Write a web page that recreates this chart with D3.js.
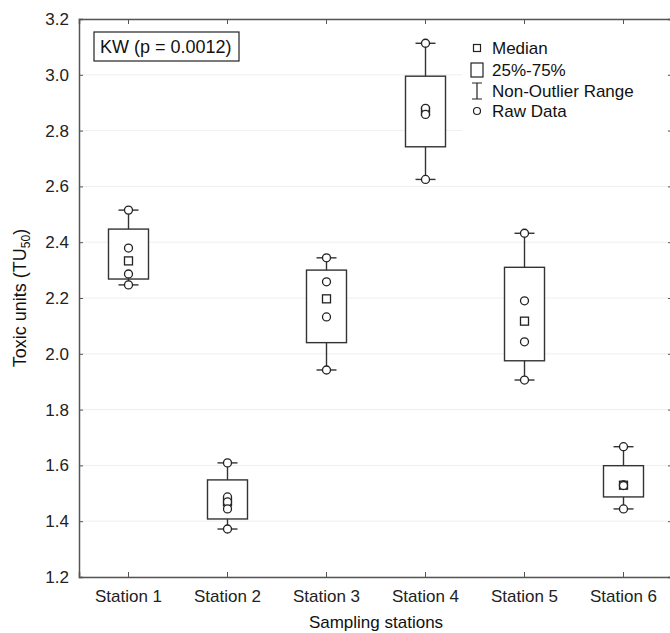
<!DOCTYPE html>
<html>
  <head>
    <meta charset="utf-8">
    <title>Toxic units by sampling station</title>
    <script src="https://cdn.jsdelivr.net/npm/d3@7"></script>
    <style>
      body { margin: 0; background: #fff; }
      svg { display: block; font-family: "Liberation Sans", Arial, sans-serif; }
      .axis path, .axis line { stroke: #555; }
      .axis path { stroke-width: 1.5; }
      .axis text { font-size: 17px; fill: #222; }
      .grid line { stroke: #efefef; }
    </style>
  </head>

  <body>
    <svg id="chart" width="670" height="633"></svg>

    <script>
      // data
      stations = ["Station 1", "Station 2", "Station 3", "Station 4", "Station 5", "Station 6"];
      medians = [2.333, 1.469, 2.197, 2.869, 2.117, 1.529];
      q1 = [2.268, 1.408, 2.040, 2.742, 1.975, 1.487];
      q3 = [2.447, 1.548, 2.300, 2.995, 2.310, 1.599];
      whiskerLow = [2.247, 1.372, 1.942, 2.625, 1.906, 1.444];
      whiskerHigh = [2.515, 1.609, 2.344, 3.113, 2.432, 1.667];
      rawData = [
        [2.515, 2.379, 2.286, 2.247],
        [1.609, 1.487, 1.469, 1.444, 1.372],
        [2.344, 2.258, 2.132, 1.942],
        [3.113, 2.880, 2.858, 2.625],
        [2.432, 2.190, 2.043, 1.906],
        [1.667, 1.530, 1.528, 1.444]
      ];
      yTicks = [1.2, 1.4, 1.6, 1.8, 2.0, 2.2, 2.4, 2.6, 2.8, 3.0, 3.2];
      legendItems = ["Median", "25%-75%", "Non-Outlier Range", "Raw Data"];

      margin = {top: 19, right: -3, bottom: 56, left: 79};
      width = 670;
      height = 633;

      svg = d3.select("#chart");

      x = d3.scaleBand()
        .domain(stations)
        .range([margin.left, width - margin.right]);
      y = d3.scaleLinear()
        .domain([1.2, 3.2])
        .range([height - margin.bottom, margin.top]);

      // gridlines
      svg.append("g")
        .attr("class", "grid")
        .selectAll("line")
        .data(yTicks)
        .join("line")
          .attr("x1", margin.left)
          .attr("x2", width - margin.right)
          .attr("y1", function(d) { return y(d); })
          .attr("y2", function(d) { return y(d); });

      // legend background hides the gridlines behind it
      svg.append("rect")
        .attr("x", 462)
        .attr("y", 32)
        .attr("width", 205)
        .attr("height", 102)
        .attr("fill", "#fff");

      // axes, ticks pointing inwards
      svg.append("g")
        .attr("class", "axis")
        .attr("transform", "translate(" + margin.left + ",0)")
        .call(d3.axisLeft(y).tickValues(yTicks).tickFormat(d3.format(".1f")).tickSize(-4).tickPadding(10));
      svg.append("g")
        .attr("class", "axis")
        .attr("transform", "translate(" + (width - margin.right) + ",0)")
        .call(d3.axisRight(y).tickValues(yTicks).tickFormat("").tickSize(-5));
      svg.append("g")
        .attr("class", "axis")
        .attr("transform", "translate(0," + (height - margin.bottom) + ")")
        .call(d3.axisBottom(x).tickSize(-5).tickPadding(13));
      svg.append("g")
        .attr("class", "axis")
        .attr("transform", "translate(0," + margin.top + ")")
        .call(d3.axisTop(x).tickFormat("").tickSize(-5));

      // boxes
      boxWidth = 40;
      capWidth = 20;
      boxes = svg.append("g")
        .selectAll("g")
        .data(stations)
        .join("g")
          .attr("transform", function(d) {
            return "translate(" + (x(d) + x.bandwidth() / 2) + ",0)";
          });
      boxes.append("line")
        .attr("y1", function(d, i) { return y(whiskerHigh[i]); })
        .attr("y2", function(d, i) { return y(whiskerLow[i]); })
        .attr("stroke", "#333")
        .attr("stroke-width", 1.4);
      boxes.append("line")
        .attr("x1", -capWidth / 2)
        .attr("x2", capWidth / 2)
        .attr("y1", function(d, i) { return y(whiskerHigh[i]); })
        .attr("y2", function(d, i) { return y(whiskerHigh[i]); })
        .attr("stroke", "#333")
        .attr("stroke-width", 1.4);
      boxes.append("line")
        .attr("x1", -capWidth / 2)
        .attr("x2", capWidth / 2)
        .attr("y1", function(d, i) { return y(whiskerLow[i]); })
        .attr("y2", function(d, i) { return y(whiskerLow[i]); })
        .attr("stroke", "#333")
        .attr("stroke-width", 1.4);
      boxes.append("rect")
        .attr("x", -boxWidth / 2)
        .attr("width", boxWidth)
        .attr("y", function(d, i) { return y(q3[i]); })
        .attr("height", function(d, i) { return y(q1[i]) - y(q3[i]); })
        .attr("fill", "#fff")
        .attr("stroke", "#333")
        .attr("stroke-width", 1.4);
      boxes.append("rect")
        .attr("x", -4)
        .attr("width", 8)
        .attr("y", function(d, i) { return y(medians[i]) - 4; })
        .attr("height", 8)
        .attr("fill", "#fff")
        .attr("stroke", "#222")
        .attr("stroke-width", 1.3);
      boxes.selectAll("circle")
        .data(function(d, i) { return rawData[i]; })
        .join("circle")
          .attr("cy", function(d) { return y(d); })
          .attr("r", 4)
          .attr("fill", "#fff")
          .attr("stroke", "#222")
          .attr("stroke-width", 1.3);

      // KW annotation
      kw = svg.append("g");
      kw.append("rect")
        .attr("x", 94)
        .attr("y", 32)
        .attr("width", 145)
        .attr("height", 29)
        .attr("fill", "#fff")
        .attr("stroke", "#222")
        .attr("stroke-width", 1.2);
      kw.append("text")
        .attr("x", 100)
        .attr("y", 53)
        .attr("font-size", "18px")
        .attr("fill", "#111")
        .text("KW (p = 0.0012)");

      // legend
      legend = svg.append("g")
        .attr("transform", "translate(477,0)");
      legendY = [48, 70, 91, 111];
      legend.selectAll("text")
        .data(legendItems)
        .join("text")
          .attr("x", 15)
          .attr("y", function(d, i) { return legendY[i]; })
          .attr("dy", "0.35em")
          .attr("font-size", "17px")
          .attr("fill", "#111")
          .text(function(d) { return d; });
      legend.append("rect")
        .attr("x", -3.5).attr("y", legendY[0] - 3.5)
        .attr("width", 7).attr("height", 7)
        .attr("fill", "none").attr("stroke", "#222").attr("stroke-width", 1.2);
      legend.append("rect")
        .attr("x", -6).attr("y", legendY[1] - 7)
        .attr("width", 12).attr("height", 14)
        .attr("fill", "none").attr("stroke", "#222").attr("stroke-width", 1.2);
      legend.append("path")
        .attr("d", "M-5," + (legendY[2] - 8) + "H5M0," + (legendY[2] - 8) + "V" + (legendY[2] + 8) + "M-5," + (legendY[2] + 8) + "H5")
        .attr("fill", "none").attr("stroke", "#222").attr("stroke-width", 1.2);
      legend.append("circle")
        .attr("cy", legendY[3])
        .attr("r", 3.5)
        .attr("fill", "none").attr("stroke", "#222").attr("stroke-width", 1.2);

      // axis titles
      yTitle = svg.append("text")
        .attr("transform", "translate(26," + ((margin.top + height - margin.bottom) / 2) + ") rotate(-90)")
        .attr("text-anchor", "middle")
        .attr("font-size", "18px")
        .attr("fill", "#111");
      yTitle.append("tspan").text("Toxic units (TU");
      yTitle.append("tspan").attr("font-size", "12px").attr("dy", 4).text("50");
      yTitle.append("tspan").attr("dy", -4).text(")");

      svg.append("text")
        .attr("x", (margin.left + width - margin.right) / 2)
        .attr("y", 628)
        .attr("text-anchor", "middle")
        .attr("font-size", "17px")
        .attr("fill", "#111")
        .text("Sampling stations");
    </script>
  </body>
</html>
